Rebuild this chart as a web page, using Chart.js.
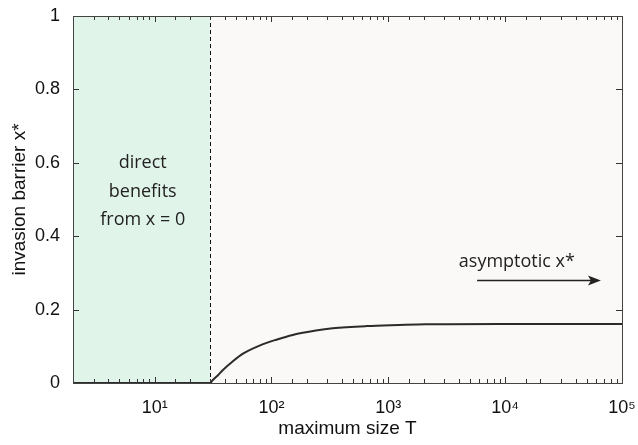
<!DOCTYPE html>
<html lang="en">
<head>
<meta charset="UTF-8" />
<title>Invasion barrier vs maximum size</title>
<script src="https://cdn.jsdelivr.net/npm/chart.js"></script>
<style>
  html, body { margin: 0; padding: 0; background: #ffffff; }
  #wrap { width: 638px; height: 445px; position: relative; }
</style>
</head>
<body>
<div id="wrap"><canvas id="barrierChart" width="638" height="445"></canvas></div>

<script>
// maximum size T and the invasion barrier x*
const sizeT = [2, 30, 31, 35, 38, 47, 57, 79, 110, 152, 240, 334, 650, 1240, 2100, 8900, 100000];
const barrier = [0, 0, 0.006, 0.022, 0.034, 0.06, 0.08, 0.102, 0.118, 0.131, 0.143, 0.149, 0.155, 0.158, 0.16, 0.161, 0.161];

const xRange = [2, 100000];
const yTicks = [0, 0.2, 0.4, 0.6, 0.8, 1];
const threshold = 30;   // direct benefits below this size
const directLabel = ['direct', 'benefits', 'from x = 0'];
const asymLabel = 'asymptotic x*';

const sup = {'0':'⁰','1':'¹','2':'²','3':'³','4':'⁴','5':'⁵','6':'⁶','7':'⁷','8':'⁸','9':'⁹'};
const axisFont = '"Liberation Sans", Arial, sans-serif';

// backgrounds, dashed line, inside ticks, annotations
const decor = {
    id: 'decor',
    beforeDatasetsDraw(chart) {
        const {ctx, chartArea: a, scales: {x, y}} = chart;
        ctx.save();
        ctx.fillStyle = '#faf9f7';
        ctx.fillRect(a.left, a.top, a.right - a.left, a.bottom - a.top);
        const xt = x.getPixelForValue(threshold);
        ctx.fillStyle = '#e1f4ea';
        ctx.fillRect(a.left, a.top, xt - a.left, a.bottom - a.top);
        ctx.strokeStyle = '#111';
        ctx.lineWidth = 1;
        ctx.setLineDash([4, 3]);
        ctx.beginPath();
        ctx.moveTo(Math.round(xt) + 0.5, a.top);
        ctx.lineTo(Math.round(xt) + 0.5, a.bottom);
        ctx.stroke();
        ctx.restore();
    },
    afterDraw(chart) {
        const {ctx, chartArea: a, scales: {x, y}} = chart;
        ctx.save();
        ctx.strokeStyle = '#333';
        ctx.lineWidth = 1;
        ctx.beginPath();
        x.ticks.forEach(t => {
            const px = Math.round(x.getPixelForValue(t.value)) + 0.5;
            const major = Number.isInteger(Math.log10(t.value));
            const len = major ? 6 : 4;
            ctx.moveTo(px, a.bottom); ctx.lineTo(px, a.bottom - len);
            ctx.moveTo(px, a.top); ctx.lineTo(px, a.top + len);
        });
        yTicks.forEach(v => {
            const py = Math.round(y.getPixelForValue(v)) + 0.5;
            ctx.moveTo(a.left, py); ctx.lineTo(a.left + 6, py);
            ctx.moveTo(a.right, py); ctx.lineTo(a.right - 6, py);
        });
        ctx.stroke();
        ctx.strokeStyle = '#444';
        ctx.strokeRect(a.left + 0.5, a.top + 0.5, a.right - a.left, a.bottom - a.top);

        // text annotations
        ctx.fillStyle = '#222';
        ctx.font = '18px "Open Sans", sans-serif';
        ctx.textAlign = 'center';
        ctx.textBaseline = 'middle';
        const cx = x.getPixelForValue(7.9);
        [0.6, 0.522, 0.444].forEach((v, i) => {
            ctx.fillText(directLabel[i], cx, y.getPixelForValue(v));
        });
        ctx.fillText(asymLabel, x.getPixelForValue(12600), y.getPixelForValue(0.33));

        // arrow
        const x0 = x.getPixelForValue(5750), x1 = x.getPixelForValue(66000);
        const ya = Math.round(y.getPixelForValue(0.28)) + 0.5;
        ctx.strokeStyle = '#222';
        ctx.lineWidth = 1.3;
        ctx.beginPath();
        ctx.moveTo(x0, ya); ctx.lineTo(x1 - 4, ya);
        ctx.stroke();
        ctx.fillStyle = '#222';
        ctx.beginPath();
        ctx.moveTo(x1, ya);
        ctx.lineTo(x1 - 13, ya - 5);
        ctx.lineTo(x1 - 10, ya);
        ctx.lineTo(x1 - 13, ya + 5);
        ctx.closePath();
        ctx.fill();
        ctx.restore();
    }
};

const ctx = document.getElementById('barrierChart').getContext('2d');
const chart = new Chart(ctx, {
    type: 'line',
    data: {
        datasets: [{
            data: sizeT.map((t, i) => ({x: t, y: barrier[i]})),
            borderColor: '#2b2b2b',
            borderWidth: 2,
            pointRadius: 0,
            cubicInterpolationMode: 'monotone',
            fill: false
        }]
    },
    options: {
        responsive: false,
        animation: false,
        layout: { padding: { top: 16, right: 16, left: 0, bottom: 0 } },
        plugins: { legend: { display: false }, tooltip: { enabled: false } },
        scales: {
            x: {
                type: 'logarithmic',
                min: xRange[0],
                max: xRange[1],
                grid: { display: false },
                border: { display: false },
                ticks: {
                    autoSkip: false,
                    maxRotation: 0,
                    padding: 6,
                    color: '#111',
                    font: { family: axisFont, size: 18 },
                    callback: v => {
                        const e = Math.log10(v);
                        if (Math.abs(e - Math.round(e)) > 1e-9) return '';
                        return '10' + String(Math.round(e)).split('').map(c => sup[c]).join('');
                    }
                },
                title: {
                    display: true,
                    text: 'maximum size T',
                    color: '#111',
                    padding: { top: 0, bottom: 5 },
                    font: { family: axisFont, size: 19 }
                },
                afterFit: s => { s.height = 62; s.paddingRight = 0; s.paddingLeft = 0; }
            },
            y: {
                min: 0,
                max: 1,
                grid: { display: false },
                border: { display: false },
                afterBuildTicks: s => { s.ticks = yTicks.map(v => ({value: v})); },
                ticks: {
                    padding: 5,
                    color: '#111',
                    font: { family: axisFont, size: 18 },
                    callback: v => String(v)
                },
                title: {
                    display: true,
                    text: 'invasion barrier x*',
                    color: '#111',
                    padding: { top: 8, bottom: 0 },
                    font: { family: axisFont, size: 19 }
                },
                afterFit: s => { s.width = 73; }
            }
        }
    },
    plugins: [decor]
});
</script>
</body>
</html>
